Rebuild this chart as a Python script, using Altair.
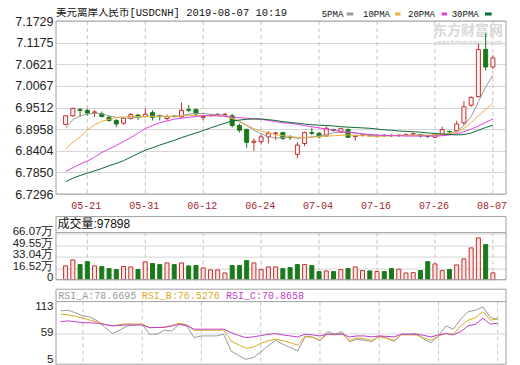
import altair as alt
import pandas as pd

# ---------------- data ----------------
title_text = "美元离岸人民币[USDCNH] 2019-08-07 10:19"
tick_idx = [3, 11, 19, 27, 35, 43, 51, 59]
tick_labels = ["05-21", "05-31", "06-12", "06-24", "07-04", "07-16", "07-26", "08-07"]
price_ticks = [6.7296, 6.7850, 6.8404, 6.8958, 6.9512, 7.0067, 7.0621, 7.1175, 7.1729]
vol_ticks = [0, 16.52, 33.04, 49.55, 66.07]
rsi_ticks = [5, 59, 113]
rsi_mid = [59]

opens = [6.908, 6.930, 6.946, 6.944, 6.938, 6.935, 6.926, 6.918, 6.911, 6.923,
         6.932, 6.928, 6.938, 6.930, 6.923, 6.929, 6.927, 6.946, 6.946, 6.925,
         6.930, 6.933, 6.933, 6.930, 6.905, 6.895, 6.862, 6.864, 6.876, 6.885,
         6.887, 6.875, 6.831, 6.859, 6.887, 6.885, 6.878, 6.894, 6.888, 6.895,
         6.877, 6.880, 6.880, 6.877, 6.880, 6.880, 6.879, 6.881, 6.883, 6.882,
         6.878, 6.875, 6.883, 6.890, 6.892, 6.912, 6.957, 6.979, 7.100, 7.055]
highs = [6.932, 6.951, 6.950, 6.948, 6.944, 6.941, 6.930, 6.922, 6.926, 6.937,
         6.934, 6.949, 6.944, 6.933, 6.933, 6.932, 6.964, 6.958, 6.949, 6.930,
         6.934, 6.937, 6.937, 6.935, 6.910, 6.897, 6.872, 6.882, 6.891, 6.889,
         6.889, 6.880, 6.863, 6.889, 6.900, 6.889, 6.903, 6.897, 6.898, 6.897,
         6.880, 6.883, 6.882, 6.881, 6.883, 6.882, 6.883, 6.885, 6.887, 6.884,
         6.880, 6.885, 6.902, 6.892, 6.917, 6.968, 6.980, 7.115, 7.142, 7.085]
lows = [6.905, 6.928, 6.928, 6.930, 6.927, 6.926, 6.915, 6.901, 6.907, 6.920,
        6.919, 6.926, 6.918, 6.918, 6.918, 6.925, 6.926, 6.939, 6.929, 6.919,
        6.928, 6.929, 6.930, 6.900, 6.887, 6.848, 6.840, 6.856, 6.859, 6.868,
        6.868, 6.868, 6.821, 6.852, 6.880, 6.872, 6.878, 6.889, 6.886, 6.874,
        6.866, 6.877, 6.876, 6.874, 6.876, 6.876, 6.876, 6.878, 6.880, 6.874,
        6.873, 6.873, 6.882, 6.884, 6.888, 6.906, 6.953, 6.977, 7.046, 7.050]
closes = [6.930, 6.949, 6.944, 6.937, 6.940, 6.928, 6.918, 6.909, 6.923, 6.933,
          6.927, 6.934, 6.926, 6.928, 6.928, 6.928, 6.944, 6.944, 6.935, 6.928,
          6.931, 6.934, 6.934, 6.905, 6.893, 6.862, 6.865, 6.876, 6.885, 6.886,
          6.872, 6.874, 6.855, 6.887, 6.885, 6.876, 6.898, 6.893, 6.897, 6.875,
          6.878, 6.881, 6.879, 6.878, 6.879, 6.879, 6.880, 6.882, 6.884, 6.879,
          6.877, 6.883, 6.895, 6.889, 6.909, 6.953, 6.977, 7.100, 7.055, 7.078]

ma5 = [6.898, 6.920, 6.930, 6.934, 6.937, 6.935, 6.930, 6.926, 6.924, 6.924,
       6.926, 6.928, 6.929, 6.929, 6.928, 6.928, 6.931, 6.934, 6.936, 6.936,
       6.934, 6.933, 6.932, 6.924, 6.915, 6.905, 6.893, 6.884, 6.877, 6.873,
       6.874, 6.876, 6.872, 6.874, 6.876, 6.878, 6.882, 6.886, 6.889, 6.888,
       6.886, 6.883, 6.880, 6.879, 6.879, 6.879, 6.880, 6.880, 6.881, 6.881,
       6.880, 6.879, 6.882, 6.884, 6.891, 6.905, 6.928, 6.966, 7.004, 7.034]
ma10 = [6.845, 6.862, 6.876, 6.893, 6.907, 6.916, 6.921, 6.926, 6.927, 6.928,
        6.928, 6.928, 6.928, 6.929, 6.929, 6.929, 6.930, 6.931, 6.931, 6.931,
        6.930, 6.930, 6.929, 6.923, 6.916, 6.906, 6.897, 6.891, 6.886, 6.882,
        6.879, 6.877, 6.875, 6.874, 6.875, 6.877, 6.878, 6.879, 6.880, 6.881,
        6.880, 6.879, 6.878, 6.877, 6.878, 6.879, 6.880, 6.880, 6.880, 6.880,
        6.880, 6.881, 6.882, 6.884, 6.888, 6.898, 6.912, 6.930, 6.946, 6.963]
ma20 = [6.787, 6.797, 6.806, 6.814, 6.824, 6.836, 6.845, 6.854, 6.864, 6.874,
        6.886, 6.897, 6.905, 6.912, 6.917, 6.921, 6.924, 6.926, 6.928, 6.930,
        6.931, 6.930, 6.929, 6.927, 6.925, 6.924, 6.922, 6.921, 6.918, 6.915,
        6.912, 6.911, 6.908, 6.905, 6.902, 6.899, 6.896, 6.893, 6.890, 6.888,
        6.886, 6.884, 6.882, 6.881, 6.880, 6.879, 6.879, 6.878, 6.878, 6.878,
        6.878, 6.878, 6.879, 6.881, 6.884, 6.889, 6.896, 6.904, 6.913, 6.922]
ma30 = [6.761, 6.770, 6.777, 6.783, 6.789, 6.795, 6.802, 6.808, 6.815, 6.824,
        6.833, 6.842, 6.848, 6.855, 6.861, 6.867, 6.874, 6.880, 6.886, 6.892,
        6.899, 6.905, 6.911, 6.917, 6.919, 6.921, 6.922, 6.922, 6.920, 6.918,
        6.915, 6.913, 6.911, 6.909, 6.907, 6.906, 6.905, 6.904, 6.902, 6.901,
        6.900, 6.899, 6.898, 6.896, 6.894, 6.893, 6.891, 6.890, 6.889, 6.888,
        6.886, 6.885, 6.883, 6.882, 6.881, 6.882, 6.886, 6.893, 6.900, 6.906]

volumes = [19.8, 28.5, 21.7, 26.0, 19.8, 18.8, 15.9, 14.5, 18.8, 18.3,
           14.5, 25.6, 23.2, 21.7, 24.1, 21.7, 24.1, 19.8, 20.3, 16.9,
           14.0, 14.0, 9.6, 20.3, 20.3, 27.5, 24.1, 14.5, 18.3, 18.3,
           15.9, 17.4, 21.7, 21.7, 20.3, 11.6, 12.5, 11.6, 14.5, 15.9,
           18.3, 13.0, 12.5, 11.6, 11.6, 15.9, 15.0, 9.6, 10.1, 13.0,
           26.0, 22.7, 13.0, 14.5, 21.2, 29.9, 45.8, 60.3, 50.6, 9.79]
vol_up = [1, 1, 0, 0, 1, 0, 0, 0, 1, 1, 0, 1, 0, 0, 1, 0, 1, 0, 0, 1,
          1, 1, 1, 0, 0, 0, 1, 1, 1, 1, 0, 0, 0, 1, 0, 0, 1, 0, 1, 0,
          1, 1, 0, 1, 0, 0, 1, 1, 1, 0, 0, 1, 1, 0, 1, 1, 1, 1, 0, 1]

rsi_a = [105.9, 107.3, 102.0, 95.7, 93.0, 85.0, 72.0, 59.6, 67.0, 75.3,
         77.0, 78.8, 58.4, 58.4, 66.5, 65.0, 78.8, 75.3, 51.5, 54.9,
         54.9, 54.9, 58.4, 24.4, 15.0, 7.4, 10.7, 22.0, 34.5, 46.1,
         38.0, 31.1, 24.4, 52.9, 52.9, 44.7, 63.7, 58.4, 63.7, 42.7,
         48.2, 46.0, 43.3, 54.9, 51.5, 43.3, 58.4, 58.4, 59.6, 48.2,
         41.3, 54.9, 75.3, 68.6, 89.0, 104.4, 107.3, 114.0, 92.2, 89.0]
rsi_b = [99.1, 98.0, 95.0, 91.0, 87.0, 83.0, 78.0, 75.3, 78.0, 80.0,
         79.0, 78.8, 71.8, 72.0, 72.6, 76.0, 80.8, 78.0, 66.5, 66.5,
         66.5, 66.5, 66.5, 44.7, 37.0, 29.8, 32.0, 40.0, 44.7, 48.2,
         45.0, 41.3, 36.0, 54.9, 52.0, 46.1, 58.4, 57.0, 59.6, 46.1,
         50.8, 49.0, 46.1, 52.9, 50.0, 46.1, 57.0, 57.0, 57.0, 50.8,
         46.1, 54.9, 59.6, 58.4, 75.3, 86.9, 92.2, 104.4, 86.9, 89.8]
rsi_c = [84.1, 85.5, 84.0, 82.0, 81.5, 80.8, 78.0, 75.3, 76.5, 77.3,
         77.3, 77.3, 71.8, 72.0, 72.6, 75.0, 78.8, 76.0, 68.6, 68.6,
         68.6, 68.6, 68.6, 61.7, 56.0, 51.5, 53.0, 55.6, 58.0, 59.6,
         57.0, 54.9, 52.9, 58.4, 57.0, 54.9, 58.4, 58.4, 58.4, 52.9,
         54.9, 54.9, 52.9, 54.9, 54.0, 52.9, 58.4, 58.4, 58.4, 56.0,
         52.9, 57.0, 59.6, 57.0, 63.7, 75.3, 78.8, 91.0, 78.8, 80.8]

vol_header = "成交量:97898"
rsi_headers = ["RSI_A:78.6695", "RSI_B:76.5276", "RSI_C:70.8658"]
ma_names = ["5PMA", "10PMA", "20PMA", "30PMA"]

# ---------------- styles ----------------
RED = "#c23131"
RED_FILL = "#fff4f4"
VOL_FILL = "#fde2e2"
GREEN = "#1a7a1a"
GRID = "#d6d6d6"
VGRID = "#c4c4c4"
BORDER = "#a0a0a0"
MA_COLORS = ["#9a9a9a", "#e8b040", "#e040e0", "#0b6a35"]
RSI_COLORS = ["#999999", "#dcaa2a", "#c23cc8"]
LABEL_FONT = "Liberation Sans"
MONO = "Liberation Mono, Noto Sans CJK SC"

W = 450
H_MAIN_PLOT = 173
GAP_EXTRA = 12.4
H_MAIN = H_MAIN_PLOT + GAP_EXTRA
H_VOL, H_RSI = 63, 75
X_DOMAIN = [-0.635, 60.12]
xscale = alt.Scale(domain=X_DOMAIN, nice=False, zero=False)
n = len(opens)
idx = list(range(n))
one = pd.DataFrame({"t": ["x"]})
tick_df = pd.DataFrame({"idx": tick_idx})

label_expr = "[" + ",".join(f"'{t}'" for t in tick_labels) + "][indexof([" + \
    ",".join(str(i) for i in tick_idx) + "], datum.value)]"

main_x_axis = alt.Axis(values=tick_idx, labelExpr=label_expr, title=None, grid=False,
                       ticks=False, domain=False, offset=-GAP_EXTRA,
                       labelColor="#a02a2a", labelFont="Liberation Mono", labelFontSize=10,
                       labelPadding=6, labelOffset=-1.5, labelFlush=False, labelOverlap=False)
main_y_axis = alt.Axis(values=price_ticks, format=".4f", title=None, grid=True, gridColor=GRID,
                       ticks=False, domain=False, labelFont=LABEL_FONT, labelFontSize=12.5,
                       labelColor="#222222", labelPadding=3, labelFlush=False,
                       labelOverlap=False)
vol_y_axis = alt.Axis(values=vol_ticks, title=None, grid=True, gridColor=GRID, ticks=False,
                      domain=False, labelFont=LABEL_FONT, labelFontSize=11.5,
                      labelColor="#222222", labelPadding=3, labelOffset=-2,
                      labelFlush=False, labelOverlap=False,
                      labelExpr="datum.value == 0 ? '0' : format(datum.value, '.2f') + '万'")
rsi_y_axis = alt.Axis(values=rsi_ticks, title=None, grid=False, ticks=False, domain=False,
                      labelFont=LABEL_FONT, labelFontSize=11.5, labelColor="#222222",
                      labelPadding=3, labelOffset=-1, labelFlush=False, labelOverlap=False)


def border(h):
    return alt.Chart(one).mark_rect(fill=None, stroke=BORDER, strokeWidth=1).encode(
        x=alt.value(0), x2=alt.value(W), y=alt.value(0), y2=alt.value(h))


# ---------------- main price panel ----------------
cdf = pd.DataFrame({"idx": idx, "open": opens, "high": highs, "low": lows, "close": closes})
cdf["stroke"] = [RED if c > o else GREEN for o, c in zip(opens, closes)]
cdf["fill"] = [RED_FILL if c > o else GREEN for o, c in zip(opens, closes)]

pscale = alt.Scale(domain=[price_ticks[0], price_ticks[-1]], range=[H_MAIN_PLOT, 0],
                   nice=False, zero=False)
MX = alt.X("idx:Q", scale=xscale, axis=main_x_axis)

main_vgrid = alt.Chart(tick_df).mark_rule(color=VGRID, strokeDash=[4, 3]).encode(
    x=MX, y=alt.value(0), y2=alt.value(H_MAIN_PLOT))

base = alt.Chart(cdf)
wick = base.mark_rule(strokeWidth=1).encode(
    x=MX,
    y=alt.Y("low:Q", scale=pscale, axis=main_y_axis),
    y2="high:Q",
    color=alt.Color("stroke:N", scale=None),
)
body = base.mark_bar(width=4, strokeWidth=1).encode(
    x=MX,
    y=alt.Y("open:Q", scale=pscale, axis=main_y_axis),
    y2="close:Q",
    fill=alt.Fill("fill:N", scale=None),
    stroke=alt.Stroke("stroke:N", scale=None),
)

ma_df = pd.DataFrame({"idx": idx * 4,
                      "v": ma5 + ma10 + ma20 + ma30,
                      "s": sum([[m] * n for m in ma_names], [])})
ma_lines = alt.Chart(ma_df).mark_line(strokeWidth=1).encode(
    x=MX,
    y=alt.Y("v:Q", scale=pscale, axis=main_y_axis),
    color=alt.Color("s:N", scale=alt.Scale(domain=ma_names, range=MA_COLORS), legend=None),
    order=alt.Order("idx:Q"),
)

header = alt.Chart(pd.DataFrame({"t": [title_text]})).mark_text(
    align="left", baseline="top", font=MONO, fontSize=10.5, color="#111111").encode(
    text="t:N", x=alt.value(0), y=alt.value(-12.7))
anchor = alt.Chart(one).mark_rule(color="white", strokeWidth=1).encode(
    x=alt.value(-47.5), y=alt.value(0), y2=alt.value(1))

legend_layers = []
legend_text_x = [265.7, 307, 352, 395.7]
legend_dash_x = [(290.7, 297.3), (339, 344.5), (385.7, 391), (429, 435.7)]
for name, col, tx, (d1, d2) in zip(ma_names, MA_COLORS, legend_text_x, legend_dash_x):
    ldf = pd.DataFrame({"t": [name]})
    legend_layers.append(alt.Chart(ldf).mark_text(align="left", baseline="middle", font=MONO,
                                                  fontSize=9, color="#111111").encode(
        text="t:N", x=alt.value(tx), y=alt.value(-7)))
    legend_layers.append(alt.Chart(ldf).mark_rule(color=col, strokeWidth=3).encode(
        x=alt.value(d1), x2=alt.value(d2), y=alt.value(-7)))

wm = pd.DataFrame({"t": ["东方财富网"], "u": ["eastmoney.com"]})
watermark = alt.Chart(wm).mark_text(align="center", baseline="middle", font="Noto Sans CJK SC",
                                    fontSize=14, fontWeight="bold", color="#d9d9d9").encode(
    text="t:N", x=alt.value(412), y=alt.value(9.8))
watermark2 = alt.Chart(wm).mark_text(align="center", baseline="middle", font="DejaVu Sans",
                                     fontSize=7.5, fontWeight="bold", fontStyle="italic",
                                     color="#dcdcdc").encode(
    text="u:N", x=alt.value(413), y=alt.value(22.3))

main = alt.layer(main_vgrid, watermark, watermark2, wick, body, ma_lines, border(H_MAIN_PLOT),
                 header, anchor, *legend_layers).properties(width=W, height=H_MAIN)

# ---------------- volume panel ----------------
vscale = alt.Scale(domain=[0, 91.1], nice=False)
vdf = pd.DataFrame({"idx": idx, "vol": volumes})
vdf["stroke"] = [RED if u else GREEN for u in vol_up]
vdf["fill"] = [VOL_FILL if u else GREEN for u in vol_up]

vol_vgrid = alt.Chart(tick_df).mark_rule(color=VGRID, strokeDash=[4, 3]).encode(
    x=alt.X("idx:Q", scale=xscale, axis=None), y=alt.value(16), y2=alt.value(H_VOL))
vol_bars = alt.Chart(vdf).mark_bar(width=4, strokeWidth=1).encode(
    x=alt.X("idx:Q", scale=xscale, axis=None),
    y=alt.Y("vol:Q", scale=vscale, axis=vol_y_axis),
    fill=alt.Fill("fill:N", scale=None),
    stroke=alt.Stroke("stroke:N", scale=None),
)
vol_sep = alt.Chart(one).mark_rule(color=BORDER).encode(
    x=alt.value(0), x2=alt.value(W), y=alt.value(16))
vol_head = alt.Chart(pd.DataFrame({"t": [vol_header]})).mark_text(
    align="left", baseline="middle", font="Liberation Sans, Noto Sans CJK SC", fontSize=12,
    color="#111111").encode(text="t:N", x=alt.value(1.5), y=alt.value(7.8))
vol = alt.layer(vol_vgrid, vol_bars, vol_sep, border(H_VOL), vol_head).properties(
    width=W, height=H_VOL)

# ---------------- RSI panel ----------------
rscale = alt.Scale(domain=[-2.7, 150.1], nice=False, zero=False)
rsi_names = ["RSI_A", "RSI_B", "RSI_C"]
rdf = pd.DataFrame({"idx": idx * 3, "v": rsi_a + rsi_b + rsi_c,
                    "s": sum([[m] * n for m in rsi_names], [])})
rsi_vgrid = alt.Chart(tick_df).mark_rule(color=VGRID, strokeDash=[4, 3]).encode(
    x=alt.X("idx:Q", scale=xscale, axis=None), y=alt.value(12.4), y2=alt.value(H_RSI))
rsi_mid_rule = alt.Chart(pd.DataFrame({"v": rsi_mid})).mark_rule(color=GRID).encode(
    y=alt.Y("v:Q", scale=rscale, axis=rsi_y_axis))
rsi_lines = alt.Chart(rdf).mark_line(strokeWidth=1).encode(
    x=alt.X("idx:Q", scale=xscale, axis=None),
    y=alt.Y("v:Q", scale=rscale, axis=rsi_y_axis),
    color=alt.Color("s:N", scale=alt.Scale(domain=rsi_names, range=RSI_COLORS), legend=None),
    order=alt.Order("idx:Q"),
)
rsi_sep = alt.Chart(one).mark_rule(color=BORDER).encode(
    x=alt.value(0), x2=alt.value(W), y=alt.value(12.4))
rsi_head_layers = []
for txt, col, hx in zip(rsi_headers, RSI_COLORS, [2.3, 85.7, 170]):
    rsi_head_layers.append(alt.Chart(pd.DataFrame({"t": [txt]})).mark_text(
        align="left", baseline="middle", font=MONO, fontSize=10, color=col).encode(
        text="t:N", x=alt.value(hx), y=alt.value(6.6)))
rsi = alt.layer(rsi_vgrid, rsi_mid_rule, rsi_lines, rsi_sep, border(H_RSI),
                *rsi_head_layers).properties(width=W, height=H_RSI)

chart = alt.vconcat(main, vol, rsi, spacing=9.6, bounds="flush").resolve_scale(
    x="independent", y="independent", color="independent").properties(
    padding=0, background="white").configure_view(stroke=None)

chart.save("out.html", embed_options={"renderer": "svg", "actions": False})
